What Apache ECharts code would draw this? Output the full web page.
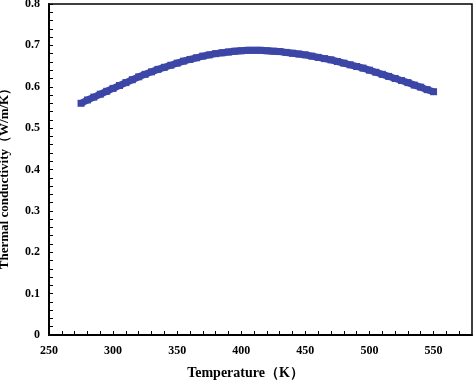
<!DOCTYPE html>
<html>
<head>
<meta charset="utf-8">
<script src="https://cdn.jsdelivr.net/npm/echarts@6/dist/echarts.min.js"></script>
<style>html,body{margin:0;padding:0;background:#fff}#c{width:474px;height:380px}</style>
</head>
<body>
<div id="c"></div>
<script>
var temperatures = [275,280,285,290,295,300,305,310,315,320,325,330,335,340,345,350,355,360,365,370,375,380,385,390,395,400,405,410,415,420,425,430,435,440,445,450,455,460,465,470,475,480,485,490,495,500,505,510,515,520,525,530,535,540,545,550];
var conductivity = [0.560,0.568,0.575,0.582,0.589,0.596,0.603,0.610,0.617,0.624,0.630,0.636,0.642,0.647,0.652,0.657,0.662,0.666,0.670,0.674,0.677,0.680,0.682,0.684,0.686,0.687,0.688,0.688,0.688,0.687,0.686,0.685,0.683,0.681,0.679,0.677,0.674,0.671,0.668,0.665,0.661,0.657,0.653,0.649,0.645,0.640,0.635,0.630,0.625,0.620,0.615,0.610,0.604,0.599,0.593,0.588];
var xTitle = 'Temperature（K）';
var yTitle = 'Thermal conductivity（W/m/K）';

var pts = temperatures.map(function (t, i) { return [t, conductivity[i]]; });
var font = '"Liberation Serif", "Times New Roman", serif';
var chart = echarts.init(document.getElementById('c'), null, {renderer: 'canvas'});
chart.setOption({
  animation: false,
  backgroundColor: '#fff',
  grid: {left: 49, top: 4, right: 2, bottom: 45, containLabel: false, outerBoundsMode: 'none',
         show: true, borderColor: '#000', borderWidth: 1.5, backgroundColor: 'transparent'},
  xAxis: {
    type: 'value', min: 250, max: 580, interval: 10,
    name: xTitle, nameLocation: 'middle', nameGap: 31,
    nameTextStyle: {fontFamily: font, fontWeight: 'bold', fontSize: 14, color: '#000', padding: [0, 30, 0, 0]},
    axisLine: {show: true, lineStyle: {color: '#000', width: 2}},
    axisTick: {show: true, inside: true, length: 4, lineStyle: {color: '#000', width: 1}},
    splitLine: {show: false},
    axisLabel: {
      margin: 10, fontFamily: font, fontWeight: 'bold', fontSize: 12, color: '#000',
      showMaxLabel: false,
      formatter: function (v) { return (Math.round(v) % 50 === 0 && v <= 550) ? String(v) : ''; }
    }
  },
  yAxis: {
    type: 'value', min: 0, max: 0.8, interval: 0.02,
    name: yTitle, nameLocation: 'middle', nameGap: 38,
    nameTextStyle: {fontFamily: font, fontWeight: 'bold', fontSize: 13, color: '#000', padding: [0, 12, 0, 0]},
    axisLine: {show: true, lineStyle: {color: '#000', width: 2}},
    axisTick: {show: true, inside: true, length: 4, lineStyle: {color: '#000', width: 1}},
    splitLine: {show: false},
    axisLabel: {
      margin: 9, fontFamily: font, fontWeight: 'bold', fontSize: 12, color: '#000',
      formatter: function (v) {
        var k = v * 10;
        if (Math.abs(k - Math.round(k)) > 1e-6) return '';
        var r = Math.round(k);
        return r === 0 ? '0' : (r / 10).toFixed(1);
      }
    }
  },
  series: [{
    type: 'line',
    data: pts,
    symbol: 'rect',
    symbolSize: 7,
    showAllSymbol: true,
    lineStyle: {color: '#3b46a6', width: 7},
    itemStyle: {color: '#3b46a6', borderWidth: 0}
  }]
});
</script>
</body>
</html>
